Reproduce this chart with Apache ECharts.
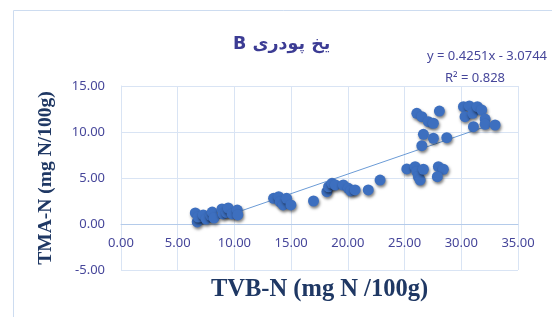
<!DOCTYPE html>
<html>
<head>
    <meta charset="utf-8">
    <script src="https://cdn.jsdelivr.net/npm/echarts@6/dist/echarts.min.js"></script>
</head>
<body style="margin:0;background:#fff">
<div id="main" style="width: 552px;height:317px;"></div>
<script>
    // TVB-N (x) and TMA-N (y)
    var tvbN = [6.55, 6.72, 6.8, 7.25, 7.5, 7.9, 8.04, 8.2, 8.9, 9.0, 9.3, 9.45, 9.8, 10.25, 10.3,
        13.45, 13.9, 14.03, 14.3, 14.6, 14.98, 16.97, 18.15, 18.3, 18.6, 18.9, 19.6, 20.05, 20.26, 20.64, 21.8, 22.84,
        25.2, 25.93, 26.08, 26.22, 26.37, 26.66, 27.98, 28.42, 27.89,
        26.08, 26.52, 27.1, 27.54, 28.07, 26.66, 27.54, 28.72, 26.52,
        30.19, 30.71, 30.33, 31.01, 31.42, 31.8, 31.07, 32.1, 32.1, 32.98];
    var tmaN = [1.2, 0.22, 0.76, 0.98, 0.54, 0.95, 1.3, 0.65, 1.63, 1.09, 1.25, 1.74, 1.09, 1.52, 0.98,
        2.79, 2.97, 2.42, 2.07, 2.79, 2.07, 2.5, 3.51, 4.05, 4.42, 4.24, 4.24, 3.88, 3.59, 3.7, 3.7, 4.78,
        5.98, 6.23, 5.68, 5.14, 4.78, 5.95, 6.23, 5.95, 5.14,
        12.03, 11.66, 11.12, 10.95, 12.28, 9.75, 9.32, 9.38, 8.51,
        12.75, 12.83, 11.66, 12.03, 12.75, 12.39, 10.58, 11.41, 10.83, 10.76];

    // trendline from the label
    var slope = 0.4251;
    var intercept = -3.0744;

    var points = tvbN.map(function (x, i) { return [x, tmaN[i]]; });
    var xMin = Math.min.apply(null, tvbN);
    var xMax = Math.max.apply(null, tvbN);
    var trend = [[xMin, slope * xMin + intercept], [xMax, slope * xMax + intercept]];

    var gridColor = '#d9e4f4';
    var labelColor = '#46469a';

    var myChart = echarts.init(document.getElementById('main'));
    var option = {
        animation: false,
        grid: { left: 121, right: 34, top: 86, bottom: 47, outerBoundsMode: 'none', containLabel: false },
        graphic: [
            { type: 'rect', shape: { x: 13.5, y: 10.5, width: 600, height: 400 },
              style: { fill: 'none', stroke: '#cddcf0', lineWidth: 1 } },
            { type: 'text', left: 233, top: 35,
              style: { text: '\u202Bیخ پودری B\u202C', font: 'bold 17.5px "DejaVu Sans"', fill: '#3c3c94' } },
            { type: 'text', right: 5, top: 50,
              style: { text: 'y = 0.4251x - 3.0744', font: '13px "Noto Sans"', fill: '#46469a' } },
            { type: 'text', left: 445, top: 72,
              style: { text: 'R² = 0.828', font: '13px "Noto Sans"', fill: '#46469a' } }
        ],
        xAxis: {
            type: 'value', min: 0, max: 35, interval: 5,
            // axis crosses at y = 0 (46px above the grid bottom)
            position: 'bottom', offset: -46,
            name: 'TVB-N (mg N /100g)', nameLocation: 'middle', nameGap: 53,
            nameTextStyle: { fontFamily: 'Liberation Serif', fontWeight: 'bold', fontSize: 24.5, color: '#1f3864' },
            axisLine: { onZero: false, lineStyle: { color: '#b4cbea' } },
            axisTick: { show: false },
            axisLabel: { color: labelColor, fontSize: 13, fontFamily: 'Noto Sans', margin: 13,
                formatter: function (v) { return v.toFixed(2); } },
            splitLine: { lineStyle: { color: gridColor } }
        },
        yAxis: {
            type: 'value', min: -5, max: 15, interval: 5,
            name: 'TMA-N (mg N/100g)', nameLocation: 'middle', nameGap: 65, nameRotate: 90,
            nameTextStyle: { fontFamily: 'Liberation Serif', fontWeight: 'bold', fontSize: 19.5, color: '#1f3864' },
            axisLine: { show: true, onZero: false, lineStyle: { color: gridColor } },
            axisTick: { show: false },
            axisLabel: { color: labelColor, fontSize: 13, fontFamily: 'Noto Sans', margin: 16,
                formatter: function (v) { return v.toFixed(2); } },
            splitLine: { lineStyle: { color: gridColor } }
        },
        series: [
            {
                type: 'line', data: trend, symbol: 'none', silent: true,
                lineStyle: { color: '#6b9bd6', width: 1 }, z: 1
            },
            {
                type: 'scatter', data: points, symbolSize: 11,
                itemStyle: { color: '#3d6fbf', opacity: 1, shadowBlur: 3, shadowColor: 'rgba(0,0,0,0.5)',
                    shadowOffsetX: 1, shadowOffsetY: 2 },
                z: 2
            }
        ]
    };
    myChart.setOption(option);
</script>
</body>
</html>
